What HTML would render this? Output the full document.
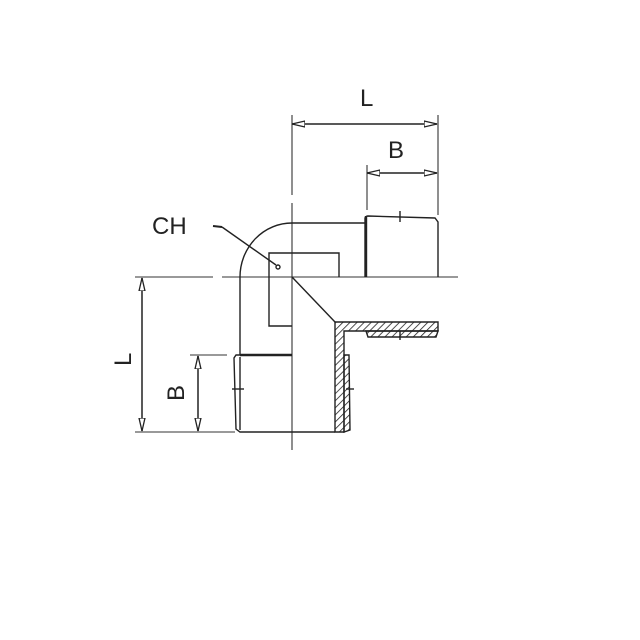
<!DOCTYPE html>
<html><head><style>body{margin:0;background:#fff}svg{display:block}</style></head><body>
<svg width="640" height="640" viewBox="0 0 640 640" xmlns="http://www.w3.org/2000/svg">
<defs>
<pattern id="h" width="5" height="5" patternUnits="userSpaceOnUse" patternTransform="rotate(45)">
<line x1="0" y1="0" x2="0" y2="5" stroke="#222" stroke-width="1.6"/></pattern>
<marker id="a" markerWidth="14" markerHeight="8" refX="13" refY="4" orient="auto-start-reverse" markerUnits="userSpaceOnUse">
<path d="M0,1 L13,4 L0,7 Z" fill="#fff" stroke="#222" stroke-width="1.3"/></marker>
</defs>
<g stroke="#333" stroke-width="1.1" fill="none">
<line x1="135" y1="277" x2="213" y2="277"/><line x1="222" y1="277" x2="458" y2="277"/>
<line x1="292" y1="115" x2="292" y2="195"/><line x1="292" y1="203" x2="292" y2="450"/>
<line x1="438" y1="115" x2="438" y2="215"/><line x1="367" y1="165" x2="367" y2="210"/>
<line x1="135" y1="432" x2="235" y2="432"/><line x1="190" y1="355" x2="227" y2="355"/>
</g>
<g stroke="#222" stroke-width="1.5" fill="none">
<line x1="292" y1="124" x2="437" y2="124" marker-start="url(#a)" marker-end="url(#a)"/>
<line x1="367" y1="173" x2="437" y2="173" marker-start="url(#a)" marker-end="url(#a)"/>
<line x1="142" y1="278" x2="142" y2="431" marker-start="url(#a)" marker-end="url(#a)"/>
<line x1="198" y1="356" x2="198" y2="431" marker-start="url(#a)" marker-end="url(#a)"/>
</g>
<g stroke="#222" stroke-width="1.4" fill="none">
<path d="M292,223 L365,223"/>
<path d="M292,223 A52,54 0 0 0 240,277 L240,355"/>
<path d="M365,277 L365,218 Q366,216 368,216 L435,218 L438,222 L438,277"/>
<line x1="366" y1="216" x2="366" y2="277" stroke-width="2.4"/>
<line x1="400" y1="211" x2="400" y2="222"/>
<path d="M269,277 L269,253 L339,253 L339,277"/>
<path d="M269,277 L269,326 L292,326"/>
<line x1="292" y1="277" x2="335" y2="322"/>
<path d="M335,322 L438,322 L438,331 L344,331 L344,432 L335,432 Z" fill="url(#h)"/>
<path d="M366,331 L438,331 L436,337 L368,337 Z" fill="url(#h)"/>
<path d="M344,355 L349,355 L350,430 L344,432 Z" fill="url(#h)"/>
<line x1="400" y1="331" x2="400" y2="340"/>
<line x1="346" y1="389" x2="354" y2="389"/>
<path d="M292,355 L236,355 L234,358 L236,429 L240,432 L335,432"/>
<line x1="240" y1="355" x2="292" y2="355" stroke-width="2.4"/>
<line x1="240" y1="357" x2="240" y2="430"/>
<line x1="232" y1="389" x2="244" y2="389"/>
<line x1="213" y1="226" x2="222" y2="227" stroke-width="2"/>
<line x1="222" y1="227" x2="276" y2="265"/>
<circle cx="278" cy="267" r="2"/>
</g>
<g font-family="Liberation Sans, sans-serif" font-size="24" fill="#222">
<text x="360" y="106">L</text>
<text x="388" y="158">B</text>
<text x="152" y="234">CH</text>
<text transform="translate(131,366) rotate(-90)">L</text>
<text transform="translate(184,401) rotate(-90)">B</text>
</g>
</svg>
</body></html>
